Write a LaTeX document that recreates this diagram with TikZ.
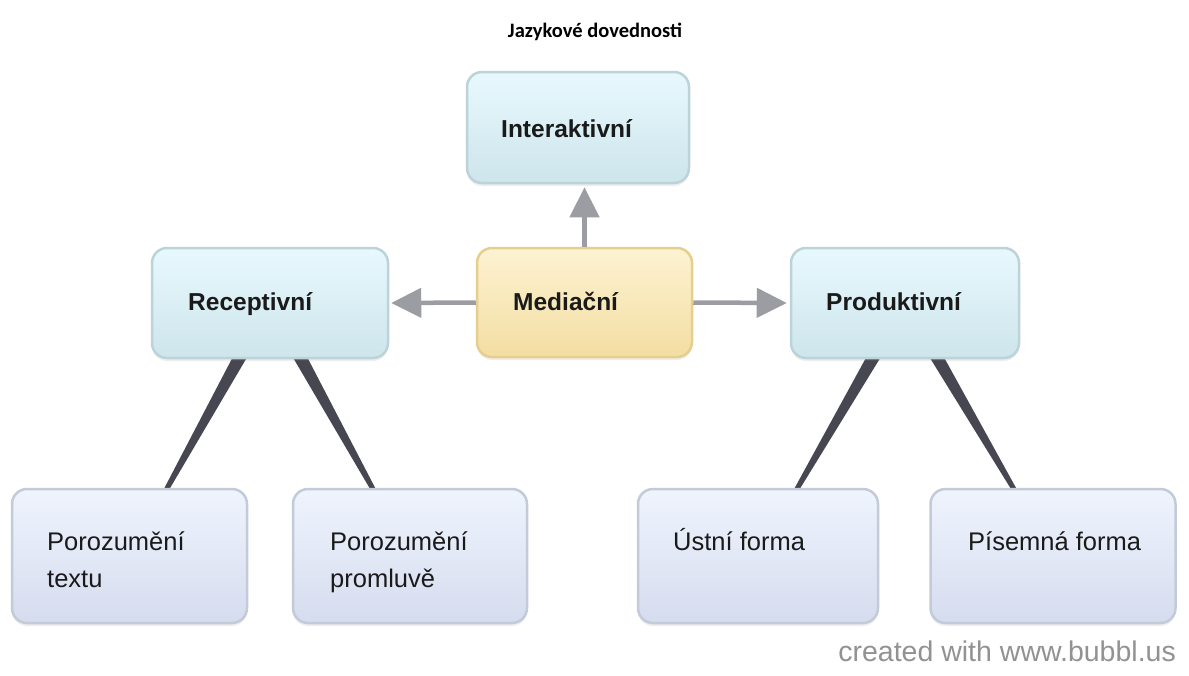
\documentclass[tikz,border=0pt]{standalone}
\usepackage{fontspec}
\setmainfont{Liberation Sans}
\newfontfamily\titlefont{Carlito}
\usetikzlibrary{arrows.meta,shadows,calc}
\pgfdeclarelayer{background}
\pgfsetlayers{background,main}
\definecolor{blueTop}{HTML}{E8F9FE}
\definecolor{blueBot}{HTML}{CDE5EB}
\definecolor{blueLine}{HTML}{BBD3D9}
\definecolor{yelTop}{HTML}{FDF3D2}
\definecolor{yelBot}{HTML}{F3DDA2}
\definecolor{yelLine}{HTML}{E6CF8E}
\definecolor{lavTop}{HTML}{EFF4FD}
\definecolor{lavBot}{HTML}{D5DCEE}
\definecolor{lavLine}{HTML}{C3CAD8}
\definecolor{arrGray}{HTML}{9C9DA3}
\definecolor{taperGray}{HTML}{474752}
\definecolor{txt}{HTML}{1A1A1A}
\definecolor{wmGray}{HTML}{929292}
\tikzset{
  box/.style={rounded corners=15pt, line width=2.5pt, inner sep=0pt,
    drop shadow={opacity=0.13, shadow xshift=0pt, shadow yshift=-3pt}},
  bluebox/.style={box, draw=blueLine, top color=blueTop, bottom color=blueBot},
  yelbox/.style={box, draw=yelLine, top color=yelTop, bottom color=yelBot},
  lavbox/.style={box, draw=lavLine, top color=lavTop, bottom color=lavBot},
  headtxt/.style={anchor=base west, inner sep=0pt, text=txt,
    font=\fontsize{24.5}{28}\selectfont\bfseries},
  leaftxt/.style={anchor=base west, inner sep=0pt, text=txt,
    font=\fontsize{25.5}{36}\selectfont},
  arr/.style={draw=arrGray, line width=4.5pt,
    -{Triangle[length=30pt,width=29pt]}},
  taper/.style={fill=taperGray}
}
\begin{document}
\begin{tikzpicture}[x=1pt,y=-1pt]
\useasboundingbox (0,0) rectangle (1189,675);
\begin{pgfonlayer}{background}
\fill[white] (0,0) rectangle (1189,675);
\end{pgfonlayer}

% title
\node[anchor=base, inner sep=0pt, font=\titlefont\fontsize{20.5}{24}\selectfont\bfseries] (title) at (595,37) {Jazykové dovednosti};

% boxes
\node[bluebox, minimum width=222pt, minimum height=111pt] (int) at (578,127.5) {};
\node[yelbox, minimum width=215pt, minimum height=109pt] (med) at (584.5,302.5) {};
\node[bluebox, minimum width=236pt, minimum height=110pt] (rec) at (270,303) {};
\node[bluebox, minimum width=228pt, minimum height=110pt] (prod) at (905,303) {};
\node[lavbox, minimum width=235pt, minimum height=134pt] (ptx) at (129.5,556) {};
\node[lavbox, minimum width=234pt, minimum height=134pt] (ppr) at (410,556) {};
\node[lavbox, minimum width=240pt, minimum height=134pt] (ust) at (758,556) {};
\node[lavbox, minimum width=245pt, minimum height=134pt] (pis) at (1053,556) {};

% texts
\node[headtxt] (tint) at (501,137) {Interaktivní};
\node[headtxt] (tmed) at (513,310) {Mediační};
\node[headtxt] (trec) at (188,310) {Receptivní};
\node[headtxt] (tprod) at (826,310) {Produktivní};
\node[leaftxt] (tptx1) at (47,550) {Porozumění};
\node[leaftxt] (tptx2) at (47,587) {textu};
\node[leaftxt] (tppr1) at (330,550) {Porozumění};
\node[leaftxt] (tppr2) at (330,587) {promluvě};
\node[leaftxt] (tust) at (673,550) {Ústní forma};
\node[leaftxt] (tpis) at (968,550) {Písemná forma};

% arrows
\draw[arr, shorten >=3pt] (med.north) -- (med.north |- int.south);
\draw[arr, shorten >=2pt] (med.west) -- (rec.east);
\draw[arr, shorten >=3pt] (med.east) -- (prod.west);

% tapered connectors
\begin{pgfonlayer}{background}
\fill[taper] ([xshift=-9pt]rec.center) -- ([xshift=9pt]rec.center) -- ([xshift=0.6pt]ptx.center) -- ([xshift=-0.6pt]ptx.center) -- cycle;
\fill[taper] ([xshift=-9pt]rec.center) -- ([xshift=9pt]rec.center) -- ([xshift=0.6pt]ppr.center) -- ([xshift=-0.6pt]ppr.center) -- cycle;
\fill[taper] ([xshift=-9pt]prod.center) -- ([xshift=9pt]prod.center) -- ([xshift=0.6pt]ust.center) -- ([xshift=-0.6pt]ust.center) -- cycle;
\fill[taper] ([xshift=-9pt]prod.center) -- ([xshift=9pt]prod.center) -- ([xshift=0.6pt]pis.center) -- ([xshift=-0.6pt]pis.center) -- cycle;
\end{pgfonlayer}

% watermark
\node[anchor=base east, inner sep=0pt, text=wmGray, font=\fontsize{28.5}{32}\selectfont] (wm) at (1176,661) {created with www.bubbl.us};
\end{tikzpicture}
\end{document}
